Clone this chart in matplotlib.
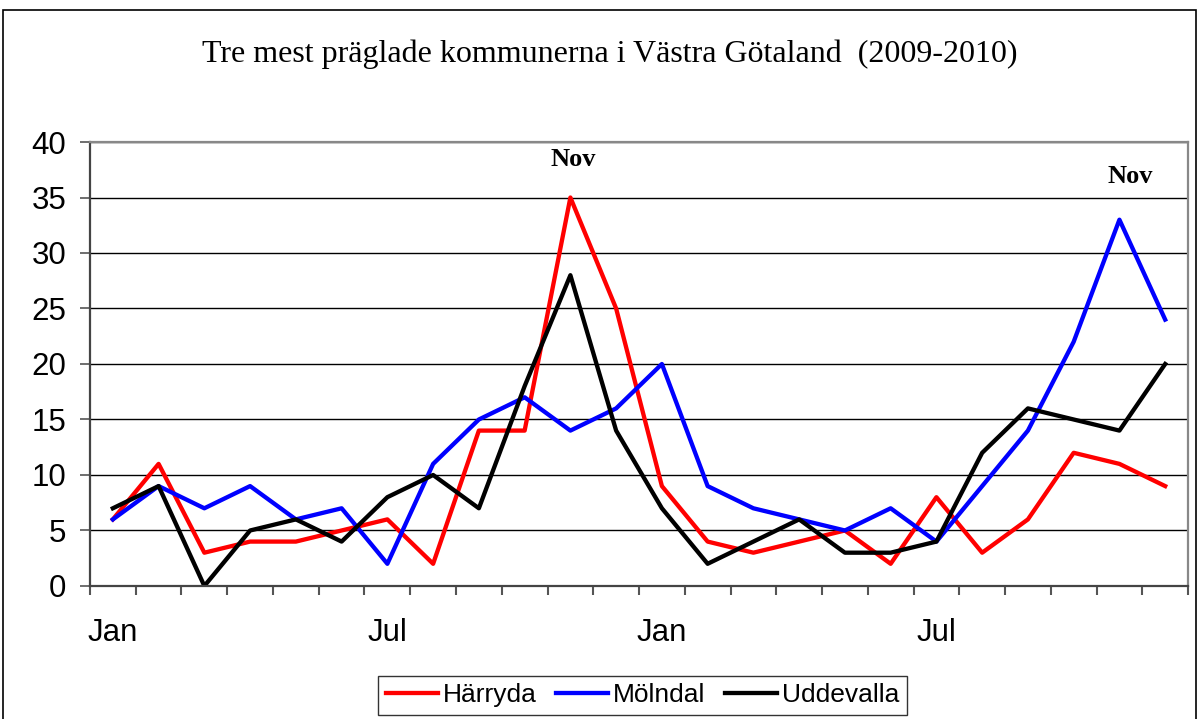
import matplotlib.pyplot as plt
import numpy as np
from matplotlib.patches import Rectangle

# data (monthly, Jan 2009 - Dec 2010)
months = ['Jan', 'Feb', 'Mar', 'Apr', 'May', 'Jun', 'Jul', 'Aug', 'Sep', 'Oct', 'Nov', 'Dec'] * 2
harryda = [6, 11, 3, 4, 4, 5, 6, 2, 14, 14, 35, 25,
           9, 4, 3, 4, 5, 2, 8, 3, 6, 12, 11, 9]
molndal = [6, 9, 7, 9, 6, 7, 2, 11, 15, 17, 14, 16,
           20, 9, 7, 6, 5, 7, 4, 9, 14, 22, 33, 24]
uddevalla = [7, 9, 0, 5, 6, 4, 8, 10, 7, 18, 28, 14,
             7, 2, 4, 6, 3, 3, 4, 12, 16, 15, 14, 20]
shown_labels = ['Jan', 'Jul']

fig = plt.figure(figsize=(11.98, 7.19), dpi=100)
ax = fig.add_axes([0.0751, 0.185, 0.9166, 0.6175])

x = np.arange(len(months))
ax.plot(x, harryda, color='red', lw=3.1, label='Härryda')
ax.plot(x, molndal, color='blue', lw=3.1, label='Mölndal')
ax.plot(x, uddevalla, color='black', lw=3.1, label='Uddevalla')

ax.set_xlim(-0.5, len(months) - 0.5)
ax.set_ylim(0, 40)
ax.set_yticks(range(0, 41, 5))
ax.grid(axis='y', color='black', lw=1)
ax.set_axisbelow(True)

# category boundary ticks, labels only on Jan / Jul
ax.set_xticks(np.arange(-0.5, len(months)), minor=True)
ax.set_xticks([i for i, m in enumerate(months) if m in shown_labels])
ax.set_xticklabels([m for m in months if m in shown_labels])
ax.tick_params(axis='x', which='major', length=0, pad=23, labelsize=22.5)
ax.tick_params(axis='x', which='minor', length=6.5, width=1.5, color='#555555', direction='out')
ax.tick_params(axis='y', length=7, width=1.2, color='#555555', labelsize=22.5, pad=10)
for lab in ax.get_xticklabels() + ax.get_yticklabels():
    lab.set_fontfamily('Liberation Sans')

for s in ['left', 'bottom']:
    ax.spines[s].set_color('#444444')
    ax.spines[s].set_linewidth(1.6)
for s in ['top', 'right']:
    ax.spines[s].set_color('#888888')
    ax.spines[s].set_linewidth(1.6)

# annotations
ax.text(10.06, 38.4, 'Nov', ha='center', va='center', fontsize=19,
        fontweight='bold', family='Liberation Serif')
ax.text(22.23, 36.9, 'Nov', ha='center', va='center', fontsize=19,
        fontweight='bold', family='Liberation Serif')

fig.text(0.509, 0.924, 'Tre mest präglade kommunerna i Västra Götaland  (2009-2010)',
         ha='center', va='center', fontsize=23, family='Liberation Serif')

leg = fig.legend(loc='center', bbox_to_anchor=(0.5363, 0.0327), ncol=3,
                 frameon=True, fancybox=False, edgecolor='black',
                 prop={'family': 'Liberation Sans', 'size': 19},
                 handlelength=1.97, handletextpad=0.19, columnspacing=0.74,
                 borderpad=0.3, borderaxespad=0)
leg.get_frame().set_linewidth(1)

# outer chart border
fig.patches.append(Rectangle((3 / 1198, -0.01), 1193 / 1198, 1 - 10 / 719 + 0.01,
                             transform=fig.transFigure, fill=False,
                             edgecolor='black', lw=1.2))

plt.savefig('out.png', dpi=100)
